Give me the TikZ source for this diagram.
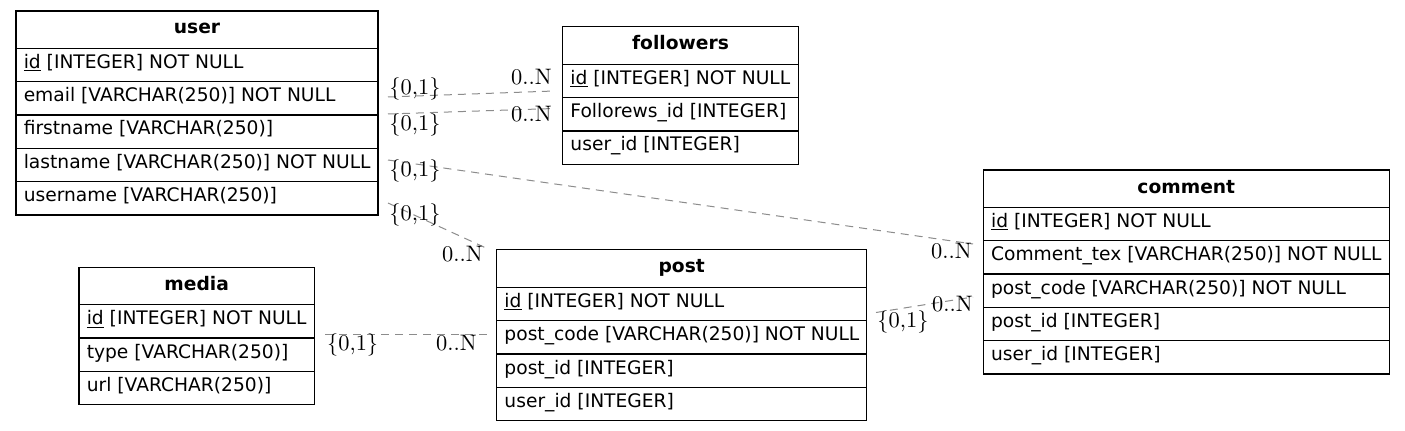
\documentclass[tikz,border=0pt]{standalone}
\usepackage{fontspec}
\newfontfamily\djv{DejaVu Sans}
\usetikzlibrary{fit}
\definecolor{relgray}{RGB}{140,140,140}
\tikzset{
  cellbox/.style={draw=black, line width=0.9pt, inner sep=0pt},
  celltext/.style={font=\djv\fontsize{14}{16}\selectfont, inner sep=0pt, anchor=base west, text=black},
  headtext/.style={font=\djv\bfseries\fontsize{14}{16}\selectfont, inner sep=0pt, anchor=base, text=black},
  rel/.style={draw=relgray, line width=0.75pt, dash pattern=on 6pt off 4.5pt},
  card/.style={font=\fontsize{10}{12}\selectfont, scale=1.68, inner sep=0pt, text=black},
}
\newcommand{\ercell}[6]{\node[cellbox, fit={(#2,#3)(#4,#5)}] (#1) {}; \node[celltext] (#1-t) at (#2+7.5,#3+20) {#6};}
\newcommand{\erhead}[6]{\node[cellbox, fit={(#2,#3)(#4,#5)}] (#1) {}; \node[headtext] (#1-t) at ({(#2+#4)/2},#3+23) {#6};}
\begin{document}
\begin{tikzpicture}[x=0.75pt,y=-0.75pt]
\useasboundingbox (0,0) rectangle (1405,431);
\fill[white] (0,0) rectangle (1405,431);

% user
\erhead{user}{16}{11}{378}{48.3}{user}
\ercell{user-id}{16}{48.3}{378}{81.7}{\underline{id} [INTEGER] NOT NULL}
\ercell{user-email}{16}{81.7}{378}{115}{email [VARCHAR(250)] NOT NULL}
\ercell{user-firstname}{16}{115}{378}{148.4}{firstname [VARCHAR(250)]}
\ercell{user-lastname}{16}{148.4}{378}{181.7}{lastname [VARCHAR(250)] NOT NULL}
\ercell{user-username}{16}{181.7}{378}{215}{username [VARCHAR(250)]}

% followers
\erhead{followers}{562.7}{26.7}{798.3}{64.3}{followers}
\ercell{followers-id}{562.7}{64.3}{798.3}{97.7}{\underline{id} [INTEGER] NOT NULL}
\ercell{followers-fid}{562.7}{97.7}{798.3}{131}{Follorews\_id [INTEGER]}
\ercell{followers-uid}{562.7}{131}{798.3}{164.3}{user\_id [INTEGER]}

% comment
\erhead{comment}{983.3}{170}{1389.3}{207.3}{comment}
\ercell{comment-id}{983.3}{207.3}{1389.3}{240.7}{\underline{id} [INTEGER] NOT NULL}
\ercell{comment-text}{983.3}{240.7}{1389.3}{274}{Comment\_tex [VARCHAR(250)] NOT NULL}
\ercell{comment-pcode}{983.3}{274}{1389.3}{307.3}{post\_code [VARCHAR(250)] NOT NULL}
\ercell{comment-pid}{983.3}{307.3}{1389.3}{340.7}{post\_id [INTEGER]}
\ercell{comment-uid}{983.3}{340.7}{1389.3}{374}{user\_id [INTEGER]}

% post
\erhead{post}{496.7}{249.3}{866.7}{287.3}{post}
\ercell{post-id}{496.7}{287.3}{866.7}{320.7}{\underline{id} [INTEGER] NOT NULL}
\ercell{post-pcode}{496.7}{320.7}{866.7}{354}{post\_code [VARCHAR(250)] NOT NULL}
\ercell{post-pid}{496.7}{354}{866.7}{387.3}{post\_id [INTEGER]}
\ercell{post-uid}{496.7}{387.3}{866.7}{420.7}{user\_id [INTEGER]}

% media
\erhead{media}{79}{267.3}{314.3}{304.7}{media}
\ercell{media-id}{79}{304.7}{314.3}{338}{\underline{id} [INTEGER] NOT NULL}
\ercell{media-type}{79}{338}{314.3}{371.3}{type [VARCHAR(250)]}
\ercell{media-url}{79}{371.3}{314.3}{404.7}{url [VARCHAR(250)]}

% connector end points
\coordinate (r1a) at (388,97);
\coordinate (r1b) at (554,91);
\coordinate (r2a) at (388,114);
\coordinate (r2b) at (554,108.5);
\coordinate (r3a) at (388,160);
\coordinate (r3b) at (973,244);
\coordinate (r4a) at (388,203);
\coordinate (r4b) at (486,248);
\coordinate (r5a) at (325,334.5);
\coordinate (r5b) at (487,334.5);
\coordinate (r6a) at (876,312.5);
\coordinate (r6b) at (973,297);

\draw[rel] (r1a) -- (r1b);
\draw[rel] (r2a) -- (r2b);
\draw[rel] (r3a) -- (r3b);
\draw[rel] (r4a) -- (r4b);
\draw[rel] (r5a) -- (r5b);
\draw[rel] (r6a) -- (r6b);

% cardinalities
\node[card, anchor=base west] (k1a) at (389,95) {\{0,1\}};
\node[card, anchor=base east] (k1b) at (552,85) {0..N};
\node[card, anchor=base west] (k2a) at (389,130.5) {\{0,1\}};
\node[card, anchor=base east] (k2b) at (552,121.7) {0..N};
\node[card, anchor=base west] (k3a) at (389,176.7) {\{0,1\}};
\node[card, anchor=base east] (k3b) at (972,258) {0..N};
\node[card, anchor=base west] (k4a) at (389,220) {\{0,1\}};
\node[card, anchor=base east] (k4b) at (483,261.7) {0..N};
\node[card, anchor=base west] (k5a) at (326.7,350) {\{0,1\}};
\node[card, anchor=base east] (k5b) at (477,350) {0..N};
\node[card, anchor=base west] (k6a) at (877,327) {\{0,1\}};
\node[card, anchor=base east] (k6b) at (973,311.7) {0..N};
\end{tikzpicture}
\end{document}
